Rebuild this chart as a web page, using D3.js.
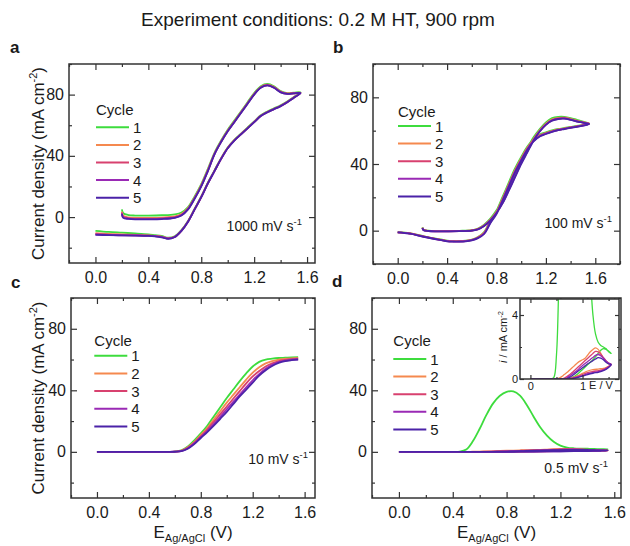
<!DOCTYPE html>
<html><head><meta charset="utf-8">
<script src="https://cdn.jsdelivr.net/npm/d3@7"></script>
<style>
body{margin:0;background:#fff}
svg{display:block}
text{font-family:"Liberation Sans",Arial,Helvetica,sans-serif;fill:#1a1a1a}
</style>
</head><body>
<svg id="chart" width="630" height="546"></svg>
<script>
// ---------------- DATA ----------------
const cycles = ["1", "2", "3", "4", "5"];
const cycleColors = ["#3ddc3d", "#f5894f", "#d8416f", "#9a2ab5", "#4b22a8"];
const xTickLabels = [0, 0.4, 0.8, 1.2, 1.6];
const xMinorTicks = [-0.2, 0.2, 0.6, 1.0, 1.4, 1.8];
const yTickLabels = [0, 40, 80];
const yMinorTicks = [-20, 20, 60, 100];
const rateLabels = ["1000", "100", "10", "0.5"];
const panelLetters = ["a", "b", "c", "d"];

// potentials (V vs Ag/AgCl), panels a and b
const eFwdAB = [0.2, 0.21, 0.25, 0.3, 0.4, 0.5, 0.6, 0.65, 0.7, 0.75, 0.8, 0.85, 0.9, 0.95, 1.0, 1.05, 1.1, 1.15, 1.2, 1.25, 1.3, 1.35, 1.4, 1.45, 1.5, 1.55];
const eRevAB = [1.55, 1.5, 1.45, 1.4, 1.35, 1.3, 1.25, 1.2, 1.15, 1.1, 1.05, 1.0, 0.95, 0.9, 0.85, 0.8, 0.75, 0.7, 0.65, 0.6, 0.55, 0.5, 0.45, 0.4, 0.3, 0.2, 0.1, 0.0];

// panel a, 1000 mV/s (mA cm-2), one row per cycle
const aFwd = [
  [5, 2.5, 1.3, 1, 1, 1.2, 1.8, 3, 6.5, 13.5, 21.5, 31.5, 42, 50, 57, 63, 69, 75, 81, 85.5, 87, 85.5, 82.3, 81, 81.3, 81.5],
  [3.5, 1, -0.2, -0.5, -0.5, -0.3, 0.5, 2, 5.8, 12.8, 20.8, 30.8, 41.5, 49.5, 56.5, 62.5, 68.5, 74.5, 80.5, 85, 86.5, 85, 82, 80.8, 81, 81.2],
  [3, 0.2, -0.7, -1, -1, -0.8, 0, 1.5, 5.4, 12.4, 20.4, 30.4, 41.2, 49.2, 56.2, 62.2, 68.2, 74.2, 80.2, 84.7, 86.2, 84.7, 81.8, 80.6, 80.9, 81.1],
  [2.5, -0.2, -1, -1.3, -1.3, -1.1, -0.3, 1.2, 5.2, 12.2, 20.2, 30.2, 41.1, 49.1, 56.1, 62.1, 68.1, 74.1, 80.1, 84.6, 86.1, 84.6, 81.6, 80.5, 80.8, 81],
  [2, -0.5, -1.2, -1.5, -1.5, -1.3, -0.5, 1, 5, 12, 20, 30, 41, 49, 56, 62, 68, 74, 80, 84.5, 86, 84.5, 81.5, 80.5, 80.8, 81]
];
const aRev = [
  [81.5, 78.5, 75.5, 73, 71, 69, 66.5, 62.5, 58.5, 54.5, 50.5, 45.5, 38.5, 30.5, 22.5, 13.5, 5.5, -2.5, -8.5, -12.5, -13.5, -12.3, -11.8, -11.3, -10.7, -10.2, -9.7, -9],
  [81.2, 78.2, 75.2, 72.7, 70.7, 68.7, 66.2, 62.2, 58.2, 54.2, 50.2, 45.2, 38.2, 30.2, 22.2, 13.2, 5.2, -2.8, -8.8, -12.8, -13.8, -12.8, -12.3, -12, -11.6, -11.3, -11, -10.5],
  [81.1, 78.1, 75.1, 72.6, 70.6, 68.6, 66.1, 62.1, 58.1, 54.1, 50.1, 45.1, 38.1, 30.1, 22.1, 13.1, 5.1, -2.9, -8.9, -12.9, -13.9, -12.9, -12.4, -12.1, -11.9, -11.7, -11.4, -11],
  [81, 78, 75, 72.5, 70.5, 68.5, 66, 62, 58, 54, 50, 45, 38, 30, 22, 13, 5, -3, -9, -13, -14, -13, -12.5, -12.2, -12, -11.9, -11.6, -11.3],
  [81, 78, 75, 72.5, 70.5, 68.5, 66, 62, 58, 54, 50, 45, 38, 30, 22, 13, 5, -3, -9, -13, -14.2, -13.2, -12.6, -12.3, -12.1, -12, -11.8, -11.6]
];

// panel b, 100 mV/s
const bFwd = [
  [2, 0.5, 0, -0.2, -0.2, -0.1, 0.3, 1.3, 3.6, 7.2, 12.2, 18.5, 26.5, 34.5, 42.5, 49.5, 56, 61, 65, 67.5, 68.3, 68.3, 67.6, 66.5, 65.4, 64.4],
  [1.8, 0.4, -0.1, -0.3, -0.3, -0.2, 0.2, 1.1, 3.2, 6.6, 11.4, 17.5, 25.5, 33.5, 41.5, 48.5, 55, 60.2, 64.2, 66.8, 67.7, 67.8, 67.1, 66, 65.1, 64.2],
  [1.7, 0.35, -0.15, -0.35, -0.35, -0.25, 0.1, 0.95, 3, 6.3, 11, 17, 25, 33, 41, 48, 54.7, 59.8, 63.8, 66.4, 67.4, 67.5, 66.8, 65.8, 64.9, 64.1],
  [1.6, 0.3, -0.2, -0.4, -0.4, -0.3, 0.05, 0.85, 2.9, 6.1, 10.7, 16.7, 24.5, 32.5, 40.5, 47.5, 54.3, 59.6, 63.6, 66.1, 67.1, 67.3, 66.6, 65.6, 64.8, 64],
  [1.5, 0.3, -0.2, -0.4, -0.4, -0.3, 0, 0.8, 2.8, 6, 10.5, 16.5, 24, 32, 40, 47, 54, 59.5, 63.5, 66, 67, 67.2, 66.5, 65.5, 64.8, 64]
];
const bRev = [
  [64.4, 63.5, 62.8, 62.2, 61.6, 61, 60.2, 59, 57.7, 55, 50.5, 44.2, 37.3, 29, 20.4, 12, 6, -0.8, -3.8, -5.4, -6, -6.2, -6.2, -6, -4.7, -3.2, -1.6, -0.9],
  [64.2, 63.3, 62.6, 62, 61.3, 60.7, 59.8, 58.6, 57.2, 54.4, 49.7, 43.3, 36.3, 27.9, 19.4, 11.2, 5.5, -1.2, -4, -5.5, -6.1, -6.3, -6.3, -6.1, -4.8, -3.3, -1.7, -1],
  [64.1, 63.2, 62.5, 61.9, 61.2, 60.5, 59.6, 58.4, 56.9, 54.1, 49.3, 42.8, 35.8, 27.4, 18.9, 10.8, 5.2, -1.5, -4.2, -5.6, -6.2, -6.4, -6.4, -6.2, -4.9, -3.4, -1.7, -1],
  [64, 63.1, 62.4, 61.8, 61.1, 60.4, 59.4, 58.2, 56.7, 53.8, 48.9, 42.4, 35.4, 27, 18.5, 10.4, 4.9, -1.7, -4.3, -5.7, -6.3, -6.5, -6.5, -6.3, -4.9, -3.4, -1.8, -1],
  [64, 63, 62.3, 61.7, 61, 60.3, 59.3, 58, 56.5, 53.5, 48.5, 42, 35, 26.5, 18, 10, 4.5, -2, -4.5, -5.8, -6.4, -6.6, -6.6, -6.4, -5, -3.5, -1.8, -1]
];

// panel c, 10 mV/s
const eC = [0, 0.1, 0.2, 0.3, 0.4, 0.5, 0.55, 0.6, 0.65, 0.7, 0.75, 0.8, 0.85, 0.9, 0.95, 1.0, 1.05, 1.1, 1.15, 1.2, 1.25, 1.3, 1.35, 1.4, 1.45, 1.5, 1.55];
const cFwd = [
  [0, 0, 0, 0, 0, 0, 0, 0.2, 1, 3.5, 7.5, 12, 17, 23, 29, 35, 40.5, 46, 51, 55.5, 58.5, 60, 60.6, 61, 61.2, 61.4, 61.5],
  [0, 0, 0, 0, 0, 0, 0, 0.15, 0.8, 3, 6.5, 11, 15.5, 21, 26.5, 32, 37, 42, 47, 51.5, 55, 57.5, 59, 60, 60.5, 60.8, 61],
  [0, 0, 0, 0, 0, 0, 0, 0.1, 0.6, 2.6, 6, 10, 14.5, 19.5, 24.5, 29.5, 34.5, 39.5, 44.5, 49, 52.5, 55.5, 57.5, 59, 59.8, 60.3, 60.5],
  [0, 0, 0, 0, 0, 0, 0, 0.1, 0.5, 2.3, 5.5, 9.5, 13.5, 18, 22.8, 27.7, 32.5, 37.2, 42, 46.5, 50.5, 54, 56.5, 58.3, 59.3, 59.9, 60.2],
  [0, 0, 0, 0, 0, 0, 0, 0.05, 0.4, 2, 5, 9, 12.8, 17, 21.5, 26, 31, 36, 40.5, 45, 49.5, 53, 55.8, 57.8, 59, 59.6, 60]
];

// panel d, 0.5 mV/s
const eFwdD = [0, 0.1, 0.2, 0.3, 0.4, 0.45, 0.5, 0.55, 0.6, 0.65, 0.7, 0.75, 0.8, 0.85, 0.9, 0.95, 1.0, 1.05, 1.1, 1.15, 1.2, 1.25, 1.3, 1.35, 1.4, 1.45, 1.5, 1.55];
const eRevD = [1.55, 1.5, 1.45, 1.4, 1.35, 1.3, 1.2, 1.1, 1.0, 0.9, 0.8, 0.7, 0.6, 0.0];
const dFwd = [
  [0, 0, 0, 0, 0, 0.1, 1.5, 7, 15, 24, 31.5, 36.5, 39, 39.3, 36.5, 30.5, 23, 16, 10.5, 6.5, 4, 2.8, 2.3, 2.1, 2.0, 1.9, 1.7, 1.6],
  [0, 0, 0, 0, 0, 0, 0, 0.05, 0.15, 0.28, 0.4, 0.55, 0.7, 0.85, 1.0, 1.12, 1.2, 1.3, 1.5, 1.7, 1.85, 1.95, 1.85, 1.6, 1.3, 1.1, 0.95, 0.9],
  [0, 0, 0, 0, 0, 0, 0, 0, 0, 0.05, 0.15, 0.27, 0.4, 0.55, 0.7, 0.85, 1.0, 1.15, 1.3, 1.45, 1.6, 1.72, 1.7, 1.55, 1.35, 1.15, 1.0, 0.9],
  [0, 0, 0, 0, 0, 0, 0, 0, 0, 0, 0.08, 0.18, 0.3, 0.42, 0.55, 0.7, 0.85, 0.97, 1.1, 1.22, 1.35, 1.48, 1.53, 1.45, 1.3, 1.12, 1.0, 0.9],
  [0, 0, 0, 0, 0, 0, 0, 0, 0, 0, 0.03, 0.1, 0.2, 0.32, 0.45, 0.58, 0.7, 0.82, 0.95, 1.05, 1.15, 1.25, 1.33, 1.3, 1.2, 1.05, 0.95, 0.9]
];
const dRev = [
  [1.6, 1.75, 1.85, 1.9, 1.8, 1.6, 1.2, 0.9, 0.6, 0.3, 0.1, 0.02, 0, 0],
  [0.9, 0.8, 0.72, 0.67, 0.64, 0.62, 0.58, 0.5, 0.35, 0.2, 0.08, 0.02, 0, 0],
  [0.9, 0.78, 0.68, 0.6, 0.55, 0.52, 0.47, 0.4, 0.28, 0.15, 0.06, 0.01, 0, 0],
  [0.9, 0.75, 0.63, 0.55, 0.5, 0.46, 0.4, 0.33, 0.22, 0.12, 0.04, 0, 0, 0],
  [0.9, 0.72, 0.6, 0.52, 0.46, 0.42, 0.36, 0.28, 0.18, 0.09, 0.03, 0, 0, 0]
];
const insetXTicks = [0, 1];
const insetXMinor = [0.5, 1.5];
const insetYTicks = [0, 4];
const insetYMinor = [2];

// ---------------- LAYOUT ----------------
const panels = [
  { frame: [69, 64, 315, 263], xd: [-0.2, 1.66], yd: [-30, 100], sweeps: [[eFwdAB, aFwd], [eRevAB, aRev]],
    letter: [10, 53], ylab: true, xlab: false, rate: [302, 231],
    legend: { x: 96, cy: 115, r0: 127.3, step: 17.6 } },
  { frame: [373, 64, 620, 264], xd: [-0.2, 1.8], yd: [-20, 100], sweeps: [[eFwdAB, bFwd], [eRevAB, bRev]],
    letter: [333, 53], ylab: false, xlab: false, rate: [612, 228],
    legend: { x: 398, cy: 116.7, r0: 126, step: 17.6 } },
  { frame: [71, 298, 315, 498], xd: [-0.2, 1.68], yd: [-30, 100], sweeps: [[eC, cFwd]],
    letter: [11, 288], ylab: true, xlab: true, rate: [308, 464],
    legend: { x: 94.3, cy: 346, r0: 355.7, step: 17.7 } },
  { frame: [372, 298, 621, 498], xd: [-0.2, 1.65], yd: [-30, 100], sweeps: [[eFwdD, dFwd], [eRevD, dRev]],
    letter: [332, 287], ylab: false, xlab: true, rate: [608, 473],
    legend: { x: 393.3, cy: 346, r0: 359, step: 17.6 } }
];

const svg = d3.select("#chart");
const AX = "#333";

svg.append("text").attr("x", 318).attr("y", 26).attr("text-anchor", "middle")
  .attr("font-size", 19).text("Experiment conditions: 0.2 M HT, 900 rpm");

function cyclePoints(sweeps, k) {
  const pts = [];
  sweeps.forEach((s, si) => {
    s[0].forEach((e, j) => {
      if (si > 0 && j === 0) return;
      pts.push([e, s[1][k][j]]);
    });
  });
  return pts;
}

function styleAxis(g) {
  g.select(".domain").remove();
  g.selectAll(".tick line").attr("stroke", AX).attr("stroke-width", 1.2);
  g.selectAll("text").attr("fill", "#1a1a1a");
}

function drawAxes(g, x, y, f, opt) {
  const [x0, y0, x1, y1] = f;
  const inRange = (arr, d) => arr.filter(v => v >= d[0] - 1e-9 && v <= d[1] + 1e-9);
  const xs = inRange(opt.xMaj, x.domain()), xm = inRange(opt.xMin, x.domain());
  const ys = inRange(opt.yMaj, y.domain()), ym = inRange(opt.yMin, y.domain());
  const fs = opt.fs;
  // bottom
  g.append("g").attr("transform", `translate(0,${y1})`)
    .call(d3.axisBottom(x).tickValues(xs).tickSize(-opt.maj).tickPadding(opt.padX).tickFormat(opt.xFmt))
    .call(styleAxis).selectAll("text").attr("font-size", fs);
  g.append("g").attr("transform", `translate(0,${y1})`)
    .call(d3.axisBottom(x).tickValues(xm).tickSize(-opt.min).tickFormat("")).call(styleAxis);
  // top
  g.append("g").attr("transform", `translate(0,${y0})`)
    .call(d3.axisTop(x).tickValues(xs).tickSize(-opt.maj).tickFormat("")).call(styleAxis);
  g.append("g").attr("transform", `translate(0,${y0})`)
    .call(d3.axisTop(x).tickValues(xm).tickSize(-opt.min).tickFormat("")).call(styleAxis);
  // left
  g.append("g").attr("transform", `translate(${x0},0)`)
    .call(d3.axisLeft(y).tickValues(ys).tickSize(-opt.maj).tickPadding(opt.padY).tickFormat(d3.format("d")))
    .call(styleAxis).selectAll("text").attr("font-size", fs);
  g.append("g").attr("transform", `translate(${x0},0)`)
    .call(d3.axisLeft(y).tickValues(ym).tickSize(-opt.min).tickFormat("")).call(styleAxis);
  // right
  g.append("g").attr("transform", `translate(${x1},0)`)
    .call(d3.axisRight(y).tickValues(ys).tickSize(-opt.maj).tickFormat("")).call(styleAxis);
  g.append("g").attr("transform", `translate(${x1},0)`)
    .call(d3.axisRight(y).tickValues(ym).tickSize(-opt.min).tickFormat("")).call(styleAxis);
  g.append("rect").attr("x", x0).attr("y", y0).attr("width", x1 - x0).attr("height", y1 - y0)
    .attr("fill", "none").attr("stroke", AX).attr("stroke-width", 1.5);
}

panels.forEach((p, pi) => {
  const [x0, y0, x1, y1] = p.frame;
  const x = d3.scaleLinear().domain(p.xd).range([x0, x1]);
  const y = d3.scaleLinear().domain(p.yd).range([y1, y0]);
  const g = svg.append("g");

  const clipId = "clip" + pi;
  svg.append("clipPath").attr("id", clipId).append("rect")
    .attr("x", x0).attr("y", y0).attr("width", x1 - x0).attr("height", y1 - y0);

  const line = d3.line().x(d => x(d[0])).y(d => y(d[1])).curve(d3.curveCatmullRom.alpha(0.5));
  const curves = g.append("g").attr("clip-path", `url(#${clipId})`);
  cycles.forEach((c, k) => {
    curves.append("path").datum(cyclePoints(p.sweeps, k))
      .attr("d", line).attr("fill", "none").attr("stroke", cycleColors[k])
      .attr("stroke-width", 1.8).attr("stroke-linejoin", "round");
  });

  drawAxes(g, x, y, p.frame, { xMaj: xTickLabels, xMin: xMinorTicks, yMaj: yTickLabels, yMin: yMinorTicks,
    maj: 6, min: 3, padX: 9, padY: 5, fs: 16, xFmt: d3.format(".1f") });

  // panel letter
  svg.append("text").attr("x", p.letter[0]).attr("y", p.letter[1]).attr("font-size", 17)
    .attr("font-weight", "bold").text(panelLetters[pi]);

  // y label
  if (p.ylab) {
    const t = svg.append("text").attr("transform", `translate(44,${(y0 + y1) / 2}) rotate(-90)`)
      .attr("text-anchor", "middle").attr("font-size", 17);
    t.append("tspan").text("Current density (mA cm");
    t.append("tspan").attr("dy", -7).attr("font-size", 11).text("-2");
    t.append("tspan").attr("dy", 7).text(")");
  }
  // x label
  if (p.xlab) {
    const t = svg.append("text").attr("x", (x0 + x1) / 2).attr("y", 538)
      .attr("text-anchor", "middle").attr("font-size", 17);
    t.append("tspan").text("E");
    t.append("tspan").attr("dy", 4).attr("font-size", 11).text("Ag/AgCl");
    t.append("tspan").attr("dy", -4).text(" (V)");
  }
  // scan rate
  const r = svg.append("text").attr("x", p.rate[0]).attr("y", p.rate[1])
    .attr("text-anchor", "end").attr("font-size", 14);
  r.append("tspan").text(rateLabels[pi] + " mV s");
  r.append("tspan").attr("dy", -6).attr("font-size", 9.5).text("-1");

  // legend
  const L = p.legend;
  svg.append("text").attr("x", L.x).attr("y", L.cy).attr("font-size", 15).text("Cycle");
  cycles.forEach((c, k) => {
    const yy = L.r0 + k * L.step;
    svg.append("line").attr("x1", L.x).attr("x2", L.x + 33).attr("y1", yy).attr("y2", yy)
      .attr("stroke", cycleColors[k]).attr("stroke-width", 2);
    svg.append("text").attr("x", L.x + 37).attr("y", yy + 5.5).attr("font-size", 15).text(c);
  });

  // inset for panel d
  if (pi === 3) {
    const f = [520, 299, 619, 379];
    const xi = d3.scaleLinear().domain([-0.2, 1.7]).range([f[0], f[2]]);
    const yi = d3.scaleLinear().domain([0, 5]).range([f[3], f[1]]);
    const gi = svg.append("g");
    gi.append("rect").attr("x", f[0]).attr("y", f[1]).attr("width", f[2] - f[0]).attr("height", f[3] - f[1]).attr("fill", "#fff");
    svg.append("clipPath").attr("id", "clipInset").append("rect")
      .attr("x", f[0]).attr("y", f[1]).attr("width", f[2] - f[0]).attr("height", f[3] - f[1]);
    const li = d3.line().x(d => xi(d[0])).y(d => yi(d[1])).curve(d3.curveCatmullRom.alpha(0.5));
    const ci = gi.append("g").attr("clip-path", "url(#clipInset)");
    cycles.forEach((c, k) => {
      ci.append("path").datum(cyclePoints(p.sweeps, k)).attr("d", li).attr("fill", "none")
        .attr("stroke", cycleColors[k]).attr("stroke-width", 1.3).attr("stroke-linejoin", "round");
    });
    drawAxes(gi, xi, yi, f, { xMaj: insetXTicks, xMin: insetXMinor, yMaj: insetYTicks, yMin: insetYMinor,
      maj: 4, min: 2, padX: 3, padY: 2, fs: 11, xFmt: d3.format("d") });
    svg.append("text").attr("x", 589).attr("y", 389).attr("font-size", 11).text("E / V");
    const t = svg.append("text").attr("transform", "translate(507,337) rotate(-90)")
      .attr("text-anchor", "middle").attr("font-size", 11);
    t.append("tspan").attr("font-style", "italic").text("i");
    t.append("tspan").text(" / mA cm");
    t.append("tspan").attr("dy", -4).attr("font-size", 7.5).text("-2");
  }
});
</script>
</body></html>
